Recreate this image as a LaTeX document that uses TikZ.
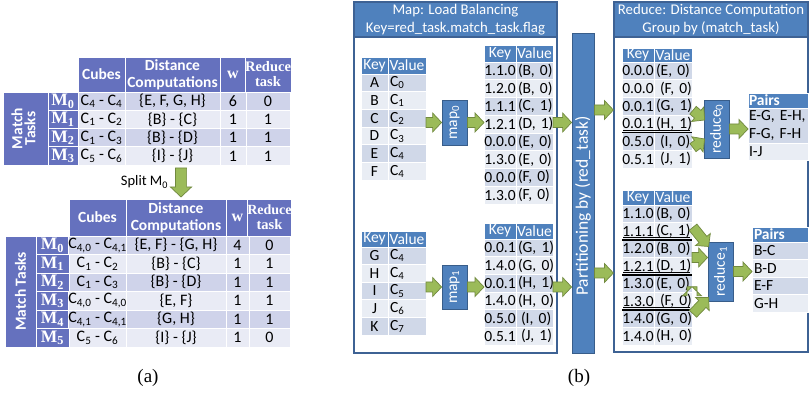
\documentclass[tikz,border=0pt]{standalone}
\usepackage{fontspec}
\usepackage{graphicx}
\setmainfont{Carlito}
\newfontfamily\tnr{Liberation Serif}
\usetikzlibrary{calc}

\definecolor{lhead}{RGB}{101,113,190}
\definecolor{lrowA}{RGB}{207,211,234}
\definecolor{lrowB}{RGB}{233,235,245}
\definecolor{mhead}{RGB}{79,129,189}
\definecolor{mrowA}{RGB}{208,216,232}
\definecolor{mrowB}{RGB}{233,237,244}
\definecolor{boxedge}{RGB}{56,93,138}
\definecolor{frameedge}{RGB}{62,98,148}
\definecolor{arrfill}{RGB}{155,187,89}
\definecolor{arredge}{RGB}{113,137,63}

\tikzset{
 cel/.style={draw=white, line width=0.8pt, inner sep=0pt, outer sep=0pt, align=center, text=black},
 ldat/.style={font=\fontsize{16}{16}\selectfont},
 lhdr/.style={text=white, font=\fontsize{15.5}{17}\selectfont\bfseries},
 lhdrT/.style={text=white, font=\fontsize{14.5}{15}\selectfont\tnr\bfseries},
 mlab/.style={text=white, font=\fontsize{17.5}{17}\selectfont\tnr\bfseries},
 khdr/.style={text=white, font=\fontsize{15.5}{16}\selectfont},
 kcell/.style={font=\fontsize{15.5}{16}\selectfont},
 vcell/.style={font=\fontsize{15.5}{16}\selectfont, align=left, inner xsep=2pt},
 phdr/.style={text=white, font=\fontsize{15.5}{16}\selectfont\bfseries, align=left, inner xsep=2pt},
 pcell/.style={font=\fontsize{15.5}{18}\selectfont, align=left, inner xsep=2pt},
 frame/.style={draw=frameedge, line width=1.2pt, fill=white, inner sep=0pt},
 framehdr/.style={draw=frameedge, line width=1.2pt, fill=mhead, text=white, align=center, inner sep=0pt, font=\fontsize{14.8}{18}\selectfont},
 pbox/.style={fill=mhead, draw=boxedge, line width=0.8pt, text=white, inner sep=0pt, font=\fontsize{15.5}{15}\selectfont},
 ptext/.style={text=white, inner sep=0pt, font=\fontsize{17.5}{18}\selectfont},
 garrow/.style={fill=arrfill, draw=arredge, line width=0.7pt, line join=miter},
 sepline/.style={draw=black, line width=1.4pt},
 ulline/.style={draw=black, line width=0.6pt},
 captext/.style={inner sep=0pt, font=\fontsize{19}{19}\selectfont\tnr},
 splitlbl/.style={inner sep=0pt, font=\fontsize{14.5}{15}\selectfont}
}

\newcommand{\csub}[1]{C\textsubscript{#1}}

% [style]{name}{x}{y}{w}{h}{fill}{text}
\newcommand{\cel}[8][]{\node[cel,#1,fill=#7,minimum width=#5pt,minimum height=#6pt] (#2) at ({#3+(#5)/2},{#4+(#6)/2}) {#8};}

% green block arrow [scale]{from}{to}
\newcommand{\garr}[3][1]{%
 \draw[garrow] let \p1=#2, \p2=#3, \n1={atan2(\y2-\y1,\x2-\x1)}, \n2={veclen(\x2-\x1,\y2-\y1)} in
  [shift={(\p1)}, rotate=\n1] (0pt,{-5pt*#1}) -- ({\n2-9pt*#1},{-5pt*#1}) -- ({\n2-9pt*#1},{-9.5pt*#1}) -- ({\n2-0pt},0pt) -- ({\n2-9pt*#1},{9.5pt*#1}) -- ({\n2-9pt*#1},{5pt*#1}) -- (0pt,{5pt*#1}) -- cycle;}

% key/value table: name, x, y, keyw, valw, headh, rowh, list
\newcommand{\kvtab}[8]{%
 \cel[khdr]{#1hk}{#2}{#3}{#4}{#6}{mhead}{Key}%
 \cel[khdr]{#1hv}{#2+#4}{#3}{#5}{#6}{mhead}{Value}%
 \pgfmathsetmacro\tw{#5-4}%
 \foreach \k/\v [count=\i] in {#8}{%
   \pgfmathtruncatemacro\rr{mod(\i,2)}%
   \ifnum\rr=1 \def\rc{mrowA}\else\def\rc{mrowB}\fi
   \cel[kcell]{#1k\i}{#2}{#3+#6+(\i-1)*#7}{#4}{#7}{\rc}{\k}%
   \cel[vcell,text width=\tw pt]{#1v\i}{#2+#4}{#3+#6+(\i-1)*#7}{#5}{#7}{\rc}{\mbox{\v}}%
 }}

% rows of left tables: name, y, fill, msub, cubes, dist, w, red
\newcommand{\trowA}[8]{%
 \cel[mlab]{#1m}{48}{#2}{30}{18.25}{lhead}{M\textsubscript{#4}}%
 \cel[ldat]{#1c}{78}{#2}{47}{18.25}{#3}{#5}%
 \cel[ldat]{#1d}{125}{#2}{95}{18.25}{#3}{#6}%
 \cel[ldat]{#1w}{220}{#2}{26}{18.25}{#3}{#7}%
 \cel[ldat]{#1r}{246}{#2}{44}{18.25}{#3}{#8}}
\newcommand{\trowB}[8]{%
 \cel[mlab]{#1m}{36}{#2}{33}{18.5}{lhead}{M\textsubscript{#4}}%
 \cel[ldat]{#1c}{69}{#2}{57}{18.5}{#3}{#5}%
 \cel[ldat]{#1d}{126}{#2}{100}{18.5}{#3}{#6}%
 \cel[ldat]{#1w}{226}{#2}{23}{18.5}{#3}{#7}%
 \cel[ldat]{#1r}{249}{#2}{41}{18.5}{#3}{#8}}

\begin{document}
\begin{tikzpicture}[x=1pt,y=-1pt]
\useasboundingbox[fill=white] (0,0) rectangle (811,395);

% ---------- (a) top table ----------
\cel[lhdr]{t1hc}{78}{57}{47}{35}{lhead}{Cubes}
\cel[lhdr]{t1hd}{125}{57}{95}{35}{lhead}{Distance\\Computations}
\cel[lhdrT]{t1hw}{220}{57}{26}{35}{lhead}{\fontsize{16}{16}\selectfont w}
\cel[lhdrT]{t1hr}{246}{57}{44}{35}{lhead}{Reduce\\task}
\cel[lhdr]{t1mt}{3}{92}{45}{73}{lhead}{\rotatebox{90}{\begin{tabular}{@{}c@{}}Match\\[-4pt]Tasks\end{tabular}}}
\trowA{t1r0}{92}{lrowA}{0}{\csub{4} - \csub{4}}{\{E, F, G, H\}}{6}{0}
\trowA{t1r1}{110.25}{lrowB}{1}{\csub{1} - \csub{2}}{\{B\} - \{C\}}{1}{1}
\trowA{t1r2}{128.5}{lrowA}{2}{\csub{1} - \csub{3}}{\{B\} - \{D\}}{1}{1}
\trowA{t1r3}{146.75}{lrowB}{3}{\csub{5} - \csub{6}}{\{I\} - \{J\}}{1}{1}

% split arrow
\node[splitlbl] (split) at (144.5,182) {Split M\textsubscript{0}};
\coordinate (splitA) at (181,168);
\coordinate (splitB) at (181,197);
\garr[1.12]{(splitA)}{(splitB)}

% ---------- (a) bottom table ----------
\cel[lhdr]{t2hc}{69}{199}{57}{37}{lhead}{Cubes}
\cel[lhdr]{t2hd}{126}{199}{100}{37}{lhead}{Distance\\Computations}
\cel[lhdrT]{t2hw}{226}{199}{23}{37}{lhead}{\fontsize{16}{16}\selectfont w}
\cel[lhdrT]{t2hr}{249}{199}{41}{37}{lhead}{\fontsize{14}{15}\selectfont Reduce\\task}
\cel[lhdr]{t2mt}{5}{236}{31}{111}{lhead}{\rotatebox{90}{Match Tasks}}
\trowB{t2r0}{236}{lrowA}{0}{\csub{4,0} - \csub{4,1}}{\{E, F\} - \{G, H\}}{4}{0}
\trowB{t2r1}{254.5}{lrowB}{1}{\csub{1} - \csub{2}}{\{B\} - \{C\}}{1}{1}
\trowB{t2r2}{273}{lrowA}{2}{\csub{1} - \csub{3}}{\{B\} - \{D\}}{1}{1}
\trowB{t2r3}{291.5}{lrowB}{3}{\csub{4,0} - \csub{4,0}}{\{E, F\}}{1}{1}
\trowB{t2r4}{310}{lrowA}{4}{\csub{4,1} - \csub{4,1}}{\{G, H\}}{1}{1}
\trowB{t2r5}{328.5}{lrowB}{5}{\csub{5} - \csub{6}}{\{I\} - \{J\}}{1}{0}

% ---------- (b) map frame ----------
\node[frame, minimum width=203pt, minimum height=351pt] (mapfr) at (455.5,177.5) {};
\node[framehdr, minimum width=203pt, minimum height=35pt] (maphd) at (455.5,19.5) {Map: Load Balancing\\Key=red\_task.match\_task.flag};

\kvtab{it1}{361}{57}{27}{38}{17}{17.7}{A/\csub{0}, B/\csub{1}, C/\csub{2}, D/\csub{3}, E/\csub{4}, F/\csub{4}}
\kvtab{ot1}{484}{45}{32}{37}{17}{17.75}{1.1.0/{(B, 0)}, 1.2.0/{(B, 0)}, 1.1.1/{(C, 1)}, 1.2.1/{(D, 1)}, 0.0.0/{(E, 0)}, 1.3.0/{(E, 0)}, 0.0.0/{(F, 0)}, 1.3.0/{(F, 0)}}
\kvtab{it2}{361}{231}{27}{38}{16}{17.6}{G/\csub{4}, H/\csub{4}, I/\csub{5}, J/\csub{6}, K/\csub{7}}
\kvtab{ot2}{484}{223}{32}{37}{16}{17.7}{0.0.1/{(G, 1)}, 1.4.0/{(G, 0)}, 0.0.1/{(H, 1)}, 1.4.0/{(H, 0)}, 0.5.0/{\hspace{3pt}(I, 0)}, 0.5.1/{\hspace{3pt}(J, 1)}}

\node[pbox, minimum width=25pt, minimum height=45pt] (map0) at (454.5,122.5) {\rotatebox{90}{map\textsubscript{0}}};
\node[pbox, minimum width=25pt, minimum height=44pt] (map1) at (454.5,287) {\rotatebox{90}{map\textsubscript{1}}};

% ---------- partition ----------
\node[pbox, minimum width=22pt, minimum height=320pt] (part) at (583,193) {};
\node[ptext, rotate=90] (parttxt) at (583,206) {Partitioning by (red\_task)};

% ---------- reduce frame ----------
\node[frame, minimum width=194pt, minimum height=350pt] (redfr) at (711,177) {};
\node[framehdr, minimum width=194pt, minimum height=35pt] (redhd) at (711,19.5) {Reduce: Distance Computation\\Group by (match\_task)};

\kvtab{rt1}{622}{48}{32}{38}{14}{17.7}{0.0.0/{(E, 0)}, 0.0.0/{\hspace{4pt}(F, 0)}, 0.0.1/{(G, 1)}, 0.0.1/{(H, 1)}, 0.5.0/{\hspace{4pt}(I, 0)}, 0.5.1/{\hspace{4pt}(J, 1)}}
\kvtab{rt2}{622}{190}{32}{38}{15}{17.5}{1.1.0/{(B, 0)}, 1.1.1/{(C, 1)}, 1.2.0/{(B, 0)}, 1.2.1/{(D, 1)}, 1.3.0/{(E, 0)}, 1.3.0/{\hspace{4pt}(F, 0)}, 1.4.0/{(G, 0)}, 1.4.0/{(H, 0)}}

\draw[sepline] (rt1k4.south west) -- (rt1v4.south east);
\draw[ulline] ([shift={(1,-2.5)}]rt1k4.south west) -- ([shift={(-2,-2.5)}]rt1v4.south east);
\draw[sepline] (rt2k2.south west) -- (rt2v2.south east);
\draw[ulline] ([shift={(1,-2.5)}]rt2k2.south west) -- ([shift={(-2,-2.5)}]rt2v2.south east);
\draw[sepline] (rt2k4.south west) -- (rt2v4.south east);
\draw[ulline] ([shift={(1,-2.5)}]rt2k4.south west) -- ([shift={(-2,-2.5)}]rt2v4.south east);
\draw[sepline] (rt2k6.south west) -- (rt2v6.south east);
\draw[ulline] ([shift={(1,-2.5)}]rt2k6.south west) -- ([shift={(-2,-2.5)}]rt2v6.south east);

\node[pbox, minimum width=25pt, minimum height=58pt] (red0) at (716.5,129) {\rotatebox{90}{reduce\textsubscript{0}}};
\node[pbox, minimum width=25pt, minimum height=59pt] (red1) at (720.5,271.5) {\rotatebox{90}{reduce\textsubscript{1}}};

% pairs tables
\cel[phdr,text width=58pt,inner xsep=1pt]{p1h}{748}{93}{60}{15}{mhead}{Pairs}
\cel[pcell,text width=58pt,inner xsep=1pt]{p1r1}{748}{108}{60}{35}{mrowA}{\mbox{E-G, E-H,}\\\mbox{F-G, F-H}}
\cel[pcell,text width=58pt,inner xsep=1pt]{p1r2}{748}{143}{60}{17}{mrowB}{I-J}
\cel[phdr,text width=52pt]{p2h}{752}{227}{56}{15}{mhead}{Pairs}
\cel[pcell,text width=52pt]{p2r1}{752}{242}{56}{17.5}{mrowA}{B-C}
\cel[pcell,text width=52pt]{p2r2}{752}{259.5}{56}{17.5}{mrowB}{B-D}
\cel[pcell,text width=52pt]{p2r3}{752}{277}{56}{17.5}{mrowA}{E-F}
\cel[pcell,text width=52pt]{p2r4}{752}{294.5}{56}{17.5}{mrowB}{G-H}

% ---------- arrows ----------
\garr{(it1hv.east |- map0.west)}{(map0.west)}
\garr{(map0.east)}{(map0.east -| ot1hk.west)}
\garr{(ot1hv.east |- map0.east)}{(map0.east -| part.west)}
\garr{(it2hv.east |- map1.west)}{(map1.west)}
\garr{(map1.east)}{(map1.east -| ot2hk.west)}
\garr{(ot2hv.east |- map1.east)}{(map1.east -| part.west)}
\coordinate (pu) at (594,110);
\coordinate (pl) at (594,273);
\garr{(part.east |- pu)}{(redfr.west |- pu)}
\garr{(part.east |- pl)}{(redfr.west |- pl)}
\garr{($(rt1v3.east)+(1,4)$)}{($(red0.west)+(1,-9)$)}
\garr{($(rt1v5.east)+(1,6)$)}{($(red0.west)+(1,10)$)}
\garr{(red0.east)}{(red0.east -| p1h.west)}
\garr{($(rt2v2.east)+(1,-4)$)}{($(red1.west)+(1,-25)$)}
\garr{(rt2v3.south east)}{(rt2v3.south east -| red1.west)}
\garr{($(rt2v5.east)+(0,3)$)}{($(rt2v5.east)+(0,3)$ -| red1.west)}
\garr{($(rt2v7.east)+(1,-5)$)}{($(red1.west)+(1,26)$)}
\garr{(red1.east)}{(red1.east -| p2h.west)}

% captions
\node[captext] (capa) at (148,378) {(a)};
\node[captext] (capb) at (579,378) {(b)};
\end{tikzpicture}
\end{document}
